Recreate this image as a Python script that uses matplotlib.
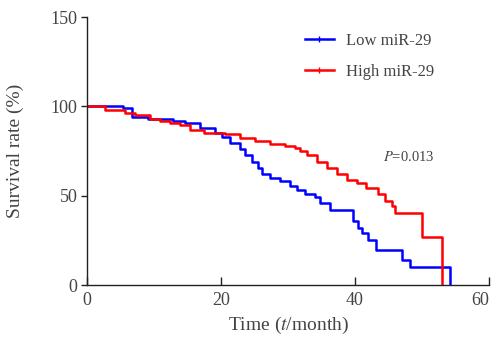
import matplotlib.pyplot as plt
from matplotlib.lines import Line2D
from matplotlib.transforms import ScaledTranslation

# Low miR-29 group (step function: time in months, survival in %)
low_t = [0, 5.4, 6.7, 9.1, 12.8, 14.6, 16.9, 19.1, 20.1, 21.3, 22.8, 23.6, 24.6, 25.5,
         26.1, 27.3, 28.8, 30.3, 31.3, 32.5, 34.0, 34.8, 36.3, 39.7, 40.4, 41.0, 41.9,
         43.2, 47.0, 48.2, 54.2]
low_s = [100, 99, 94, 93, 92, 90.5, 88, 85, 83, 79.5, 76, 73, 69, 65.5,
         62, 60, 58, 55.5, 53, 51, 49, 46, 42, 36, 32, 29, 25,
         19.4, 14, 10, 0]

# High miR-29 group
high_t = [0, 2.7, 5.7, 7.2, 9.4, 10.9, 12.4, 13.9, 15.4, 17.5, 20.6, 22.8, 25.1, 27.3,
          29.6, 31.0, 31.8, 32.8, 34.3, 35.8, 37.3, 38.8, 40.3, 41.7, 43.5, 44.5, 45.5,
          46.0, 50.0, 53.0]
high_s = [100, 98, 96, 95, 93, 92, 90.5, 89.4, 87, 85, 84.4, 82, 80.5, 79,
          78, 76.7, 75, 73, 69, 65.5, 62, 59, 57, 54.5, 51, 47, 44,
          40.5, 26.7, 0]

p_text = "=0.013"
labels = ["Low miR-29", "High miR-29"]

plt.rcParams['font.family'] = ['Liberation Serif', 'DejaVu Serif']
plt.rcParams['mathtext.fontset'] = 'stix'

txt = '#444444'

fig = plt.figure(figsize=(4.93, 3.46), dpi=100)
ax = fig.add_axes([87 / 493, 1 - 285 / 346, 402 / 493, 268 / 346])

ax.step(low_t, low_s, where='post', color='#0000ff', lw=1.8)
ax.step(high_t, high_s, where='post', color='#ff0000', lw=1.8)

ax.set_xlim(0, 60)
ax.set_ylim(0, 150)
ax.set_xticks([0, 20, 40, 60])
ax.set_yticks([0, 50, 100, 150])

for side in ['top', 'right']:
    ax.spines[side].set_visible(False)
for side in ['left', 'bottom']:
    ax.spines[side].set_linewidth(1.0)
    ax.spines[side].set_color('#222222')

ax.tick_params(axis='x', direction='in', length=6, width=1, labelsize=13, pad=5, colors='#222222')
ax.tick_params(axis='y', direction='out', length=4, width=1, labelsize=13, pad=3, colors='#222222')
for lab in ax.get_xticklabels() + ax.get_yticklabels():
    lab.set_color(txt)
# last x label sits inside the figure edge
last = ax.get_xticklabels()[-1]
last.set_transform(last.get_transform() + ScaledTranslation(-9 / 100, 0, fig.dpi_scale_trans))

ax.set_xlabel("Time ($\\it{t}$/month)", fontsize=14, color=txt, labelpad=4)
ax.set_ylabel("Survival rate (%)", fontsize=14, color=txt, labelpad=19)

ax.text(44.2, 71.7, "$\\it{P}$" + p_text, fontsize=10.5, color=txt, va='center', ha='left')

handles = [Line2D([], [], color='#0000ff', lw=1.8, marker='|', markersize=5),
           Line2D([], [], color='#ff0000', lw=1.8, marker='|', markersize=5)]
leg = ax.legend(handles, labels, loc='upper left', bbox_to_anchor=(0.542, 0.94),
                frameon=False, fontsize=12, borderpad=0, borderaxespad=0,
                labelspacing=0.9, handlelength=1.75, handletextpad=0.7)
for t in leg.get_texts():
    t.set_color(txt)

fig.savefig("out.png", dpi=100)
